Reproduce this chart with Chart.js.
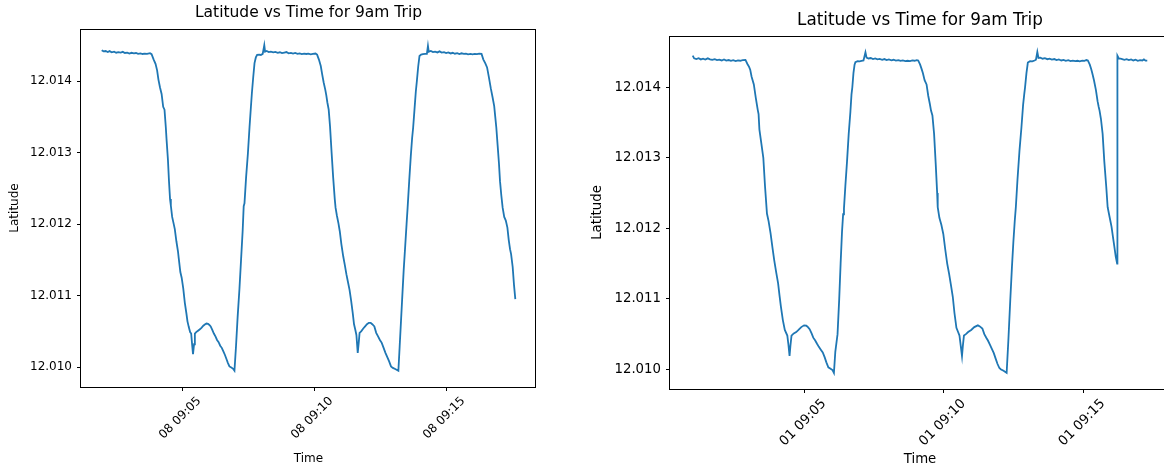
<!DOCTYPE html>
<html>
<head>
<meta charset="utf-8">
<script src="https://cdn.jsdelivr.net/npm/chart.js@4.4.1/dist/chart.umd.min.js"></script>
<style>
  html, body { margin: 0; padding: 0; background: #fff; overflow: hidden; }
  body { width: 1164px; height: 469px; position: relative; }
  canvas { position: absolute; top: 0; }
  #left { left: 0; }
  #right { left: 584px; }
</style>
</head>
<body>
<canvas id="left" width="560" height="469"></canvas>
<canvas id="right" width="600" height="469"></canvas>
<script>
// minutes after 09:00 and latitude
var timesA = [1.95, 2.02, 2.10, 2.18, 2.25, 2.33, 2.42, 2.50, 2.58, 2.67, 2.75, 2.83, 2.92, 3.00, 3.08, 3.17, 3.25, 3.33, 3.42, 3.50, 3.58, 3.67, 3.78, 3.84,
  3.92, 3.99, 4.05, 4.10, 4.16, 4.22, 4.28, 4.33, 4.38, 4.41, 4.46, 4.50, 4.54, 4.57, 4.62, 4.68, 4.72, 4.78, 4.84, 4.87, 4.93, 4.98, 5.04, 5.10, 5.16, 5.20,
  5.25, 5.30, 5.34, 5.38, 5.41, 5.45, 5.48, 5.53, 5.60, 5.67, 5.73, 5.80, 5.87, 5.92, 5.98, 6.03, 6.08, 6.14, 6.20, 6.26, 6.32, 6.38, 6.44, 6.50, 6.56,
  6.62, 6.68, 6.73, 6.79, 6.86, 6.92, 6.98, 7.04, 7.10, 7.17, 7.23, 7.29, 7.33, 7.36, 7.42, 7.49, 7.55, 7.60, 7.64, 7.69, 7.74, 7.79, 7.84, 7.92, 7.98,
  8.05, 8.11, 8.14, 8.20, 8.28, 8.36, 8.45, 8.53, 8.62, 8.70, 8.78, 8.87, 8.95, 9.03, 9.12, 9.20, 9.28, 9.37, 9.45, 9.53, 9.62, 9.70, 9.78, 9.87, 9.95,
  10.05, 10.11, 10.18, 10.25, 10.30, 10.36, 10.42, 10.46, 10.50, 10.55, 10.60, 10.66, 10.72, 10.78, 10.81, 10.86, 10.92, 10.97, 11.03, 11.10, 11.16,
  11.22, 11.28, 11.34, 11.40, 11.46, 11.51, 11.56, 11.60, 11.65, 11.69, 11.72, 11.78, 11.86, 11.93, 12.00, 12.07, 12.14, 12.20, 12.28, 12.35, 12.42,
  12.49, 12.56, 12.63, 12.70, 12.77, 12.84, 12.91, 12.98, 13.07, 13.19, 13.24, 13.29, 13.33, 13.39, 13.45, 13.50, 13.54, 13.60, 13.66, 13.71, 13.75,
  13.80, 13.85, 13.89, 13.94, 13.99, 14.05, 14.12, 14.20, 14.27, 14.31, 14.34, 14.42, 14.50, 14.58, 14.67, 14.75, 14.83, 14.92, 15.00, 15.08, 15.17,
  15.25, 15.33, 15.42, 15.50, 15.58, 15.67, 15.75, 15.83, 15.92, 16.00, 16.08, 16.17, 16.25, 16.34, 16.41, 16.48, 16.55, 16.62, 16.69, 16.76, 16.82,
  16.86, 16.90, 16.95, 17.00, 17.04, 17.09, 17.14, 17.20, 17.26, 17.32, 17.37, 17.42, 17.46, 17.52, 17.57, 17.62];
var latsA = [12.014430, 12.014415, 12.014420, 12.014405, 12.014418, 12.014402, 12.014410, 12.014396, 12.014404, 12.014398, 12.014408, 12.014392,
  12.014398, 12.014385, 12.014395, 12.014388, 12.014392, 12.014380, 12.014386, 12.014378, 12.014384, 12.014380, 12.014390, 12.014375,
  12.014300, 12.014240, 12.014150, 12.014020, 12.013910, 12.013820, 12.013640, 12.013600, 12.013350, 12.013170, 12.012900, 12.012600,
  12.012350, 12.012260, 12.012100, 12.012000, 12.011930, 12.011760, 12.011620, 12.011520, 12.011330, 12.011250, 12.011100, 12.010900,
  12.010750, 12.010640, 12.010560, 12.010490, 12.010470, 12.010300, 12.010180, 12.010320, 12.010470, 12.010490, 12.010510, 12.010530,
  12.010550, 12.010580, 12.010600, 12.010610, 12.010605, 12.010590, 12.010570, 12.010520, 12.010470, 12.010430, 12.010380, 12.010350,
  12.010300, 12.010270, 12.010220, 12.010170, 12.010110, 12.010060, 12.010010, 12.009995, 12.009980, 12.009950, 12.010300, 12.010700,
  12.011100, 12.011500, 12.011900, 12.012250, 12.012290, 12.012650, 12.012990, 12.013350, 12.013620, 12.013830, 12.014050, 12.014250,
  12.014330, 12.014365, 12.014370, 12.014365, 12.014380, 12.014500, 12.014410, 12.014420, 12.014405, 12.014412, 12.014400, 12.014408,
  12.014395, 12.014402, 12.014390, 12.014398, 12.014405, 12.014388, 12.014394, 12.014384, 12.014392, 12.014380, 12.014386, 12.014376,
  12.014384, 12.014378, 12.014382, 12.014374, 12.014380, 12.014385, 12.014370, 12.014300, 12.014210, 12.014100, 12.013980, 12.013880,
  12.013800, 12.013700, 12.013600, 12.013370, 12.013000, 12.012650, 12.012350, 12.012230, 12.012120, 12.012010, 12.011900, 12.011720,
  12.011550, 12.011430, 12.011300, 12.011190, 12.011080, 12.010930, 12.010760, 12.010600, 12.010520, 12.010450, 12.010200, 12.010350,
  12.010480, 12.010500, 12.010540, 12.010570, 12.010600, 12.010620, 12.010620, 12.010600, 12.010570, 12.010480, 12.010430, 12.010380,
  12.010340, 12.010270, 12.010200, 12.010140, 12.010080, 12.010010, 12.009990, 12.009975, 12.009950, 12.010300, 12.010650, 12.010930,
  12.011350, 12.011700, 12.012000, 12.012230, 12.012600, 12.012950, 12.013200, 12.013350, 12.013600, 12.013850, 12.014000, 12.014200,
  12.014350, 12.014370, 12.014375, 12.014380, 12.014380, 12.014490, 12.014410, 12.014420, 12.014405, 12.014412, 12.014400, 12.014415,
  12.014398, 12.014405, 12.014392, 12.014400, 12.014386, 12.014395, 12.014382, 12.014390, 12.014378, 12.014388, 12.014380, 12.014384,
  12.014374, 12.014380, 12.014372, 12.014380, 12.014376, 12.014384, 12.014380, 12.014300, 12.014250, 12.014190, 12.014050, 12.013900,
  12.013770, 12.013650, 12.013500, 12.013350, 12.013100, 12.012850, 12.012600, 12.012400, 12.012230, 12.012100, 12.012050, 12.011950,
  12.011780, 12.011650, 12.011580, 12.011400, 12.011150, 12.010950];

var timesB = [1.01, 1.06, 1.14, 1.22, 1.30, 1.38, 1.46, 1.55, 1.63, 1.71, 1.80, 1.88, 1.96, 2.05, 2.13, 2.21, 2.30, 2.38, 2.46, 2.55, 2.63, 2.71, 2.80, 2.90,
  2.97, 3.03, 3.07, 3.12, 3.20, 3.27, 3.34, 3.37, 3.40, 3.47, 3.54, 3.60, 3.67, 3.73, 3.80, 3.87, 3.93, 4.00, 4.07, 4.12, 4.17, 4.24, 4.31, 4.40, 4.44,
  4.48, 4.51, 4.55, 4.63, 4.72, 4.80, 4.90, 5.00, 5.08, 5.14, 5.20, 5.27, 5.33, 5.40, 5.47, 5.53, 5.60, 5.67, 5.74, 5.80, 5.87, 5.95, 6.02, 6.07, 6.12,
  6.20, 6.26, 6.31, 6.36, 6.40, 6.43, 6.48, 6.54, 6.60, 6.66, 6.70, 6.73, 6.77, 6.81, 6.84, 6.92, 6.99, 7.06, 7.13, 7.20, 7.24, 7.31, 7.39, 7.47, 7.55,
  7.63, 7.71, 7.80, 7.88, 7.96, 8.04, 8.13, 8.21, 8.29, 8.38, 8.46, 8.54, 8.63, 8.71, 8.80, 8.88, 8.96, 9.04, 9.09, 9.16, 9.22, 9.26, 9.32, 9.39, 9.45,
  9.51, 9.55, 9.60, 9.66, 9.72, 9.77, 9.79, 9.85, 9.92, 9.99, 10.06, 10.13, 10.20, 10.27, 10.33, 10.39, 10.46, 10.52, 10.57, 10.62, 10.66, 10.69,
  10.73, 10.80, 10.88, 10.99, 11.10, 11.23, 11.30, 11.39, 11.46, 11.53, 11.59, 11.66, 11.73, 11.80, 11.86, 11.93, 12.00, 12.06, 12.15, 12.26, 12.32,
  12.39, 12.45, 12.50, 12.55, 12.59, 12.65, 12.72, 12.79, 12.85, 12.89, 12.92, 12.97, 13.02, 13.10, 13.18, 13.26, 13.31, 13.36, 13.40, 13.47, 13.55,
  13.63, 13.72, 13.80, 13.88, 13.97, 14.05, 14.13, 14.22, 14.30, 14.38, 14.47, 14.55, 14.63, 14.72, 14.80, 14.88, 14.97, 15.05, 15.12, 15.17, 15.24,
  15.29, 15.33, 15.39, 15.46, 15.52, 15.56, 15.59, 15.64, 15.70, 15.76, 15.83, 15.88, 15.93, 15.98, 16.02, 16.07, 16.12, 16.17, 16.22, 16.23, 16.28,
  16.34, 16.40, 16.48, 16.56, 16.64, 16.72, 16.80, 16.88, 16.96, 17.04, 17.12, 17.18, 17.24, 17.30];
var latsB = [12.014448, 12.014410, 12.014400, 12.014412, 12.014395, 12.014405, 12.014392, 12.014410, 12.014396, 12.014388, 12.014398, 12.014385,
  12.014392, 12.014380, 12.014395, 12.014378, 12.014386, 12.014376, 12.014384, 12.014372, 12.014380, 12.014376, 12.014384, 12.014387,
  12.014330, 12.014290, 12.014250, 12.014150, 12.014040, 12.013850, 12.013680, 12.013620, 12.013400, 12.013200, 12.013000, 12.012600,
  12.012210, 12.012100, 12.011930, 12.011720, 12.011550, 12.011380, 12.011220, 12.011050, 12.010890, 12.010700, 12.010560, 12.010480,
  12.010350, 12.010190, 12.010330, 12.010480, 12.010510, 12.010530, 12.010560, 12.010600, 12.010625, 12.010620, 12.010600, 12.010570,
  12.010510, 12.010450, 12.010410, 12.010360, 12.010320, 12.010280, 12.010240, 12.010170, 12.010100, 12.010030, 12.010010, 12.009990,
  12.009950, 12.010250, 12.010500, 12.011000, 12.011500, 12.011950, 12.012200, 12.012280, 12.012600, 12.012950, 12.013340, 12.013650,
  12.013900, 12.014000, 12.014200, 12.014320, 12.014355, 12.014370, 12.014368, 12.014375, 12.014380, 12.014495, 12.014420, 12.014408,
  12.014415, 12.014400, 12.014410, 12.014396, 12.014402, 12.014390, 12.014400, 12.014386, 12.014395, 12.014382, 12.014390, 12.014378,
  12.014385, 12.014374, 12.014380, 12.014370, 12.014376, 12.014372, 12.014380, 12.014376, 12.014385, 12.014380, 12.014320, 12.014250,
  12.014200, 12.014100, 12.014040, 12.013880, 12.013760, 12.013670, 12.013600, 12.013340, 12.012900, 12.012500, 12.012300, 12.012150,
  12.012050, 12.011920, 12.011700, 12.011500, 12.011350, 12.011180, 12.011030, 12.010800, 12.010590, 12.010530, 12.010480, 12.010320,
  12.010190, 12.010330, 12.010480, 12.010500, 12.010530, 12.010560, 12.010600, 12.010625, 12.010610, 12.010580, 12.010500, 12.010450,
  12.010410, 12.010350, 12.010290, 12.010230, 12.010160, 12.010080, 12.010020, 12.010000, 12.009980, 12.009950, 12.010400, 12.010980,
  12.011450, 12.011800, 12.012100, 12.012300, 12.012700, 12.013100, 12.013430, 12.013750, 12.013900, 12.014000, 12.014200, 12.014350,
  12.014370, 12.014368, 12.014380, 12.014390, 12.014500, 12.014415, 12.014420, 12.014405, 12.014412, 12.014398, 12.014406, 12.014392,
  12.014400, 12.014386, 12.014394, 12.014380, 12.014388, 12.014376, 12.014384, 12.014372, 12.014378, 12.014370, 12.014376, 12.014368,
  12.014378, 12.014374, 12.014386, 12.014380, 12.014320, 12.014260, 12.014200, 12.014100, 12.013960, 12.013800, 12.013720, 12.013670,
  12.013550, 12.013340, 12.012950, 12.012590, 12.012300, 12.012200, 12.012100, 12.012020, 12.011880, 12.011740, 12.011600, 12.011500,
  12.014448, 12.014410, 12.014405, 12.014400, 12.014390, 12.014398, 12.014385, 12.014395, 12.014380, 12.014390, 12.014376, 12.014384,
  12.014380, 12.014395, 12.014378, 12.014377];

var timeTicks = [5, 10, 15];
var latTicks = [12.010, 12.011, 12.012, 12.013, 12.014];
var dayA = '08';
var dayB = '01';
var chartTitle = 'Latitude vs Time for 9am Trip';

// top and right spines, like matplotlib's box
var frame = {
  id: 'frame',
  afterDraw: function (chart) {
    var a = chart.chartArea, c = chart.ctx;
    c.save();
    c.strokeStyle = '#000';
    c.lineWidth = 1;
    c.strokeRect(Math.round(a.left) - 0.5, Math.round(a.top) + 0.5,
      Math.round(a.right - a.left), Math.round(a.bottom - a.top));
    c.restore();
  }
};

// 5% margins like matplotlib autoscale
function padRange(vals) {
  var lo = Math.min.apply(null, vals), hi = Math.max.apply(null, vals);
  var m = (hi - lo) * 0.05;
  return [lo - m, hi + m];
}

function makeChart(id, times, lats, day, s) {
  var xr = padRange(times), yr = padRange(lats);
  var font = { family: 'DejaVu Sans', size: s.font };
  return new Chart(document.getElementById(id), {
    type: 'line',
    data: {
      datasets: [{
        data: times.map(function (t, i) { return { x: t, y: lats[i] }; }),
        borderColor: '#1f77b4',
        borderWidth: 1.8,
        pointRadius: 0,
        tension: 0,
        fill: false
      }]
    },
    options: {
      responsive: false,
      animation: false,
      events: [],
      layout: { padding: { left: 0, right: s.padRight, top: 0, bottom: 0 } },
      plugins: {
        legend: { display: false },
        tooltip: { enabled: false },
        title: {
          display: true,
          text: chartTitle,
          fullSize: false,
          color: '#000',
          font: { family: 'DejaVu Sans', size: s.titleFont, weight: 'normal' },
          padding: { top: s.titleTop, bottom: s.titleBottom }
        }
      },
      scales: {
        x: {
          type: 'linear',
          min: xr[0],
          max: xr[1],
          afterFit: function (sc) { sc.height = s.xHeight; },
          afterBuildTicks: function (sc) { sc.ticks = timeTicks.map(function (v) { return { value: v }; }); },
          border: { display: false },
          grid: { drawOnChartArea: false, drawTicks: true, tickLength: 4, color: '#000' },
          ticks: {
            color: '#000',
            font: font,
            minRotation: 45,
            maxRotation: 45,
            padding: 3,
            labelOffset: s.labelOffset,
            callback: function (v) { return day + ' 09:' + (v < 10 ? '0' + v : v); }
          },
          title: { display: true, text: 'Time', color: '#000', font: font, padding: { top: 0, bottom: s.xTitlePad } }
        },
        y: {
          min: yr[0],
          max: yr[1],
          afterFit: function (sc) { sc.width = s.yWidth; },
          afterBuildTicks: function (sc) { sc.ticks = latTicks.map(function (v) { return { value: v }; }); },
          border: { display: false },
          grid: { drawOnChartArea: false, drawTicks: true, tickLength: 4, color: '#000' },
          ticks: {
            color: '#000',
            font: font,
            padding: 5,
            callback: function (v) { return v.toFixed(3); }
          },
          title: { display: true, text: 'Latitude', color: '#000', font: font, padding: { top: s.yTitlePad, bottom: 0 } }
        }
      }
    },
    plugins: [frame]
  });
}

makeChart('left', timesA, latsA, dayA, {
  font: 12, titleFont: 15.5, titleTop: 4, titleBottom: 6.4,
  padRight: 24, xHeight: 82, yWidth: 81, labelOffset: 17, xTitlePad: 2.8, yTitlePad: 7.8
});
makeChart('right', timesB, latsB, dayB, {
  font: 13.3, titleFont: 16.8, titleTop: 11, titleBottom: 4.8,
  padRight: 14, xHeight: 80, yWidth: 86, labelOffset: 20, xTitlePad: 1, yTitlePad: 6
});
</script>
</body>
</html>
